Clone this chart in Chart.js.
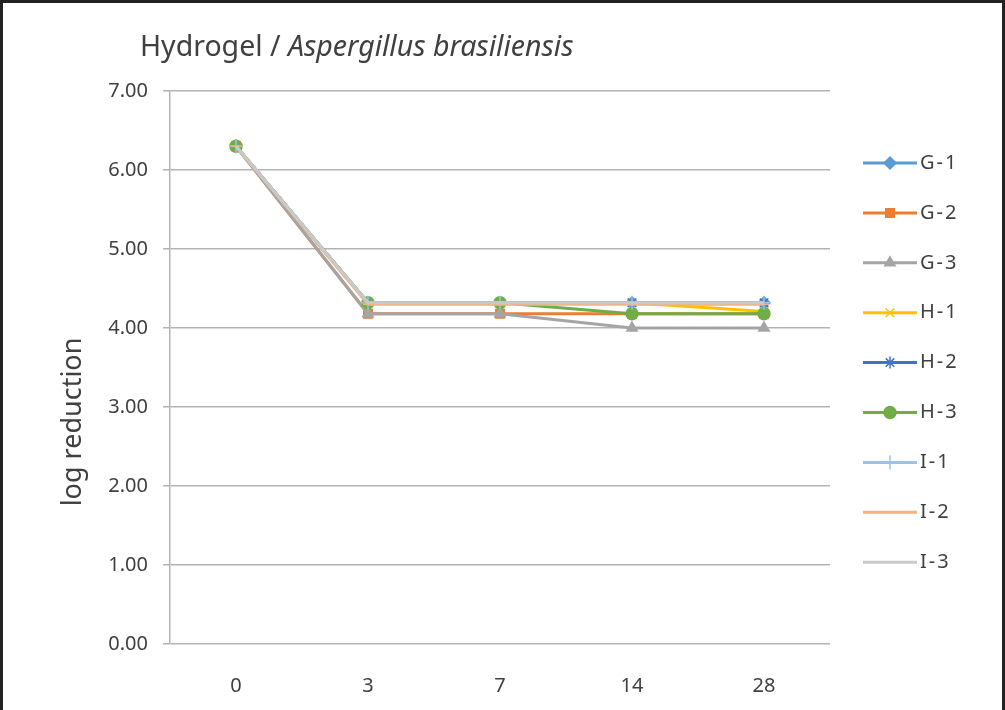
<!DOCTYPE html>
<html>
<head>
<meta charset="utf-8">
<script src="https://cdn.jsdelivr.net/npm/chart.js@4.4.1/dist/chart.umd.min.js"></script>
<style>
  html, body { margin: 0; padding: 0; background: #fff; }
  #frame {
    position: relative; width: 1005px; height: 710px; box-sizing: border-box;
    border-left: 3px solid #222; border-top: 3px solid #222; border-right: 3px solid #222;
    overflow: hidden;
  }
  #wrap { position: absolute; left: -3px; top: -3px; width: 1005px; height: 710px; }
  #title {
    position: absolute; left: 137px; top: 23px; font-family: "Noto Sans", sans-serif;
    font-size: 28.5px; color: #404040; white-space: nowrap;
  }
</style>
</head>
<body>
<div id="frame">
  <div id="wrap"><canvas id="chart"></canvas></div>
  <div id="title">Hydrogel / <i>Aspergillus brasiliensis</i></div>
</div>
<script>
// days of test
const days = ['0', '3', '7', '14', '28'];
const seriesNames = ['G-1', 'G-2', 'G-3', 'H-1', 'H-2', 'H-3', 'I-1', 'I-2', 'I-3'];

// log reduction per series
const g1 = [6.30, 4.32, 4.32, 4.32, 4.32];
const g2 = [6.30, 4.18, 4.18, 4.18, 4.18];
const g3 = [6.30, 4.18, 4.18, 4.00, 4.00];
const h1 = [6.30, 4.32, 4.32, 4.32, 4.21];
const h2 = [6.30, 4.32, 4.32, 4.32, 4.32];
const h3 = [6.30, 4.32, 4.32, 4.18, 4.18];
const i1 = [6.30, 4.32, 4.32, 4.32, 4.32];
const i2 = [6.30, 4.30, 4.30, 4.30, 4.30];
const i3 = [6.30, 4.32, 4.32, 4.32, 4.32];
const seriesValues = [g1, g2, g3, h1, h2, h3, i1, i2, i3];

const yTicks = [0, 1, 2, 3, 4, 5, 6, 7];

const colors = ['#5B9BD5', '#ED7D31', '#A5A5A5', '#FFC000', '#4472C4', '#70AD47', '#9DC3E6', '#F4B183', '#C9C9C9'];
const markers = ['rectRot', 'rect', 'triangle', 'crossRot', 'star', 'circle', 'cross', 'line', false];
const markerRadius = [6, 6, 6, 6, 6, 6, 7, 5, 0];

const FONT = '"Noto Sans", "Open Sans", sans-serif';
const TEXT = '#404040';

const datasets = seriesNames.map((name, i) => ({
    label: name,
    data: seriesValues[i],
    borderColor: colors[i],
    backgroundColor: colors[i],
    borderWidth: 3,
    pointStyle: markers[i],
    pointRadius: markerRadius[i],
    pointBorderColor: colors[i],
    pointBackgroundColor: colors[i],
    pointBorderWidth: 1.5,
    tension: 0,
    order: -i
}));

// legend + y title drawn by hand to match the original layout
const sideLegend = {
    id: 'sideLegend',
    afterDraw(chart) {
        const ctx = chart.ctx;
        ctx.save();
        chart.data.datasets.forEach((ds, i) => {
            const y = 163 + i * 49.9;
            ctx.strokeStyle = ds.borderColor;
            ctx.fillStyle = ds.borderColor;
            ctx.lineWidth = 3;
            ctx.beginPath();
            ctx.moveTo(863, y);
            ctx.lineTo(917, y);
            ctx.stroke();
            if (ds.pointStyle) {
                ctx.lineWidth = 1.5;
                Chart.helpers.drawPoint(ctx, {
                    pointStyle: ds.pointStyle, radius: ds.pointRadius, rotation: 0, borderWidth: 1.5
                }, 890, y);
            }
            ctx.fillStyle = TEXT;
            ctx.font = '20px ' + FONT;
            ctx.letterSpacing = '2px';
            ctx.textAlign = 'left';
            ctx.textBaseline = 'middle';
            ctx.fillText(ds.label, 920, y);
            ctx.letterSpacing = '0px';
        });
        ctx.translate(73, 422);
        ctx.rotate(-Math.PI / 2);
        ctx.font = '27px ' + FONT;
        ctx.textAlign = 'center';
        ctx.textBaseline = 'middle';
        ctx.fillText('log reduction', 0, 0);
        ctx.restore();
    }
};

new Chart(document.getElementById('chart').getContext('2d'), {
    type: 'line',
    data: { labels: days, datasets: datasets },
    options: {
        responsive: true,
        maintainAspectRatio: false,
        animation: false,
        layout: { padding: { top: 91, right: 175, left: 0, bottom: 0 } },
        plugins: { legend: { display: false }, tooltip: { enabled: false } },
        scales: {
            x: {
                offset: true,
                grid: { display: false, drawTicks: false, offset: true },
                border: { display: false },
                ticks: { color: TEXT, font: { family: FONT, size: 20 }, padding: 30 },
                afterFit: (s) => { s.height = 710 - 644; }
            },
            y: {
                min: 0,
                max: 7,
                afterBuildTicks: (s) => { s.ticks = yTicks.map(v => ({ value: v })); },
                grid: { color: '#b3b3b3', lineWidth: 1.5, tickLength: 7 },
                border: { display: true, color: '#b3b3b3', width: 1.5 },
                ticks: { color: TEXT, font: { family: FONT, size: 20 }, padding: 15,
                         callback: (v) => Number(v).toFixed(2) },
                afterFit: (s) => { s.width = 170; }
            }
        }
    },
    plugins: [sideLegend]
});
</script>
</body>
</html>
